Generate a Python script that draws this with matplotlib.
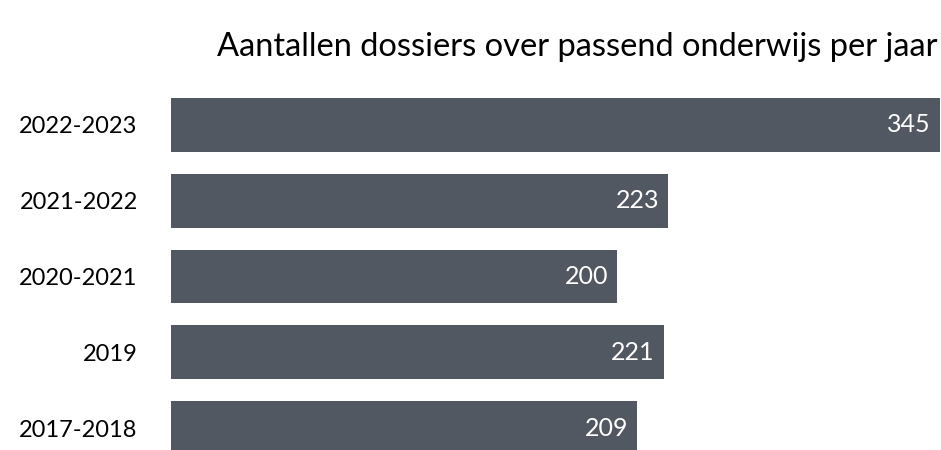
import matplotlib
matplotlib.use("Agg")
import matplotlib.pyplot as plt

# data (bottom to top)
periods = ["2017-2018", "2019", "2020-2021", "2021-2022", "2022-2023"]
counts = [209, 221, 200, 223, 345]

BAR_COLOR = "#525861"
FONT = ["Lato", "DejaVu Sans"]

plt.rcParams["font.family"] = FONT

fig = plt.figure(figsize=(9.41, 4.5), dpi=100)
ax = fig.add_axes([171 / 941, 0.0, (940 - 171) / 941, (450 - 87) / 450])

ypos = list(range(len(periods)))
bars = ax.barh(ypos, counts, height=0.71, color=BAR_COLOR, linewidth=0)

for bar, val in zip(bars, counts):
    ax.text(bar.get_width() - 4, bar.get_y() + bar.get_height() / 2,
            f"{val}", ha="right", va="center", color="white", fontsize=18)

ax.set_xlim(0, 345)
ax.set_ylim(-0.29, 4.5)
ax.set_yticks(ypos)
ax.set_yticklabels(periods, fontsize=17, color="black")
ax.tick_params(axis="y", length=0, pad=24)
ax.set_xticks([])
for s in ax.spines.values():
    s.set_visible(False)

fig.text(0.996, 1 - 47 / 450, "Aantallen dossiers over passend onderwijs per jaar",
         ha="right", va="center", fontsize=23.5, color="black")

fig.savefig("out.png", dpi=100)
